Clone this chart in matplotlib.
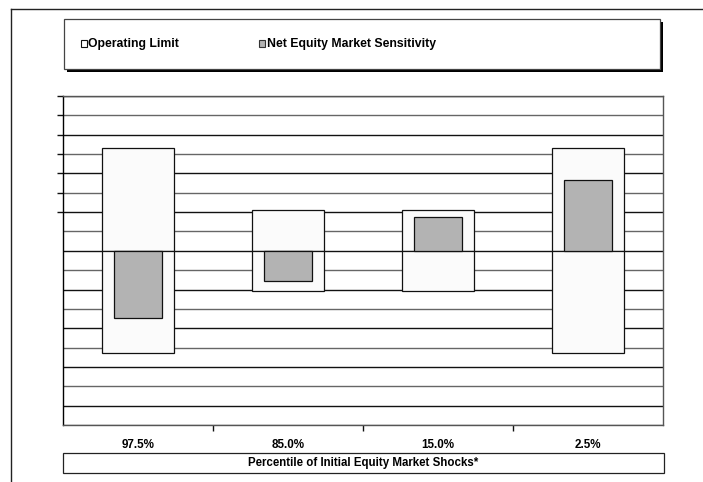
import matplotlib
matplotlib.use("Agg")
import matplotlib.pyplot as plt
from matplotlib.patches import Rectangle
import numpy as np

plt.rcParams['font.family'] = ['Liberation Sans', 'DejaVu Sans']

# data
categories = ['97.5%', '85.0%', '15.0%', '2.5%']
op_limit = [5.3, 2.1, 2.1, 5.3]          # operating limit (+/-)
net_sens = [-3.45, -1.55, 1.75, 3.65]    # net equity market sensitivity

W, H = 703, 482
fig = plt.figure(figsize=(W / 100, H / 100), dpi=100)

# main plot area (pixel box 63..663, 96..425)
ax = fig.add_axes([63 / W, 1 - 425 / H, 600 / W, 329 / H])
x = np.arange(len(categories))
ax.set_xlim(-0.5, 3.5)
ax.set_ylim(-9, 8)

# horizontal grid lines, alternating dark / grey
for i, yv in enumerate(range(-9, 9)):
    ax.axhline(yv, color='#111111' if i % 2 else '#666666', lw=1.0, zorder=0)

# operating limit drawn as two stacked halves (up and down from zero)
ax.bar(x, op_limit, width=0.48, color='#fbfbfb', edgecolor='#111111', lw=0.9, zorder=2)
ax.bar(x, [-v for v in op_limit], width=0.48, color='#fbfbfb', edgecolor='#111111', lw=0.9, zorder=2)
ax.bar(x, net_sens, width=0.325, color='#b3b3b3', edgecolor='#111111', lw=0.9, zorder=3)

for s in ['top', 'right', 'bottom']:
    ax.spines[s].set_color('#555555')
ax.spines['left'].set_color('#000000')
for s in ax.spines.values():
    s.set_linewidth(1.0)

ax.set_yticks(range(2, 9))
ax.set_yticklabels([])
ax.tick_params(axis='y', length=4, width=1, color='#111111')
ax.set_xticks([0.5, 1.5, 2.5])
ax.set_xticklabels([])
ax.tick_params(axis='x', length=4, width=1, color='#111111')

# overlay axes in pixel coordinates for frame, legend and label box
ov = fig.add_axes([0, 0, 1, 1], facecolor='none')
ov.set_xlim(0, W)
ov.set_ylim(H, 0)
ov.axis('off')

ov.plot([11, W], [9, 9], color='#222222', lw=1.0)
ov.plot([11, 11], [9, H], color='#222222', lw=1.0)

# legend box with shadow
ov.add_patch(Rectangle((66.5, 21.5), 596, 50, facecolor='#000000', edgecolor='none', zorder=1))
ov.add_patch(Rectangle((64, 19), 596, 50, facecolor='white', edgecolor='#444444', lw=0.9, zorder=2))
ov.add_patch(Rectangle((81, 40), 6, 6.5, facecolor='white', edgecolor='#111111', lw=0.8, zorder=3))
ov.text(88.5, 43.5, 'Operating Limit', fontsize=8.8, fontweight='bold', va='center', ha='left', zorder=3)
ov.add_patch(Rectangle((258.5, 40), 6, 6.5, facecolor='#b3b3b3', edgecolor='#333333', lw=0.8, zorder=3))
ov.text(267, 43.5, 'Net Equity Market Sensitivity', fontsize=8.8, fontweight='bold', va='center', ha='left', zorder=3)

# category labels under the plot
for i, c in enumerate(categories):
    px = 63 + (i + 0.5) * 150
    ov.text(px, 445, c, fontsize=8.4, fontweight='bold', ha='center', va='center')

# axis title box
ov.add_patch(Rectangle((63, 453), 601, 20, facecolor='white', edgecolor='#222222', lw=0.9))
ov.text(363, 463, 'Percentile of Initial Equity Market Shocks*', fontsize=8.3, fontweight='bold',
        ha='center', va='center')

fig.savefig('out.png', dpi=100)
